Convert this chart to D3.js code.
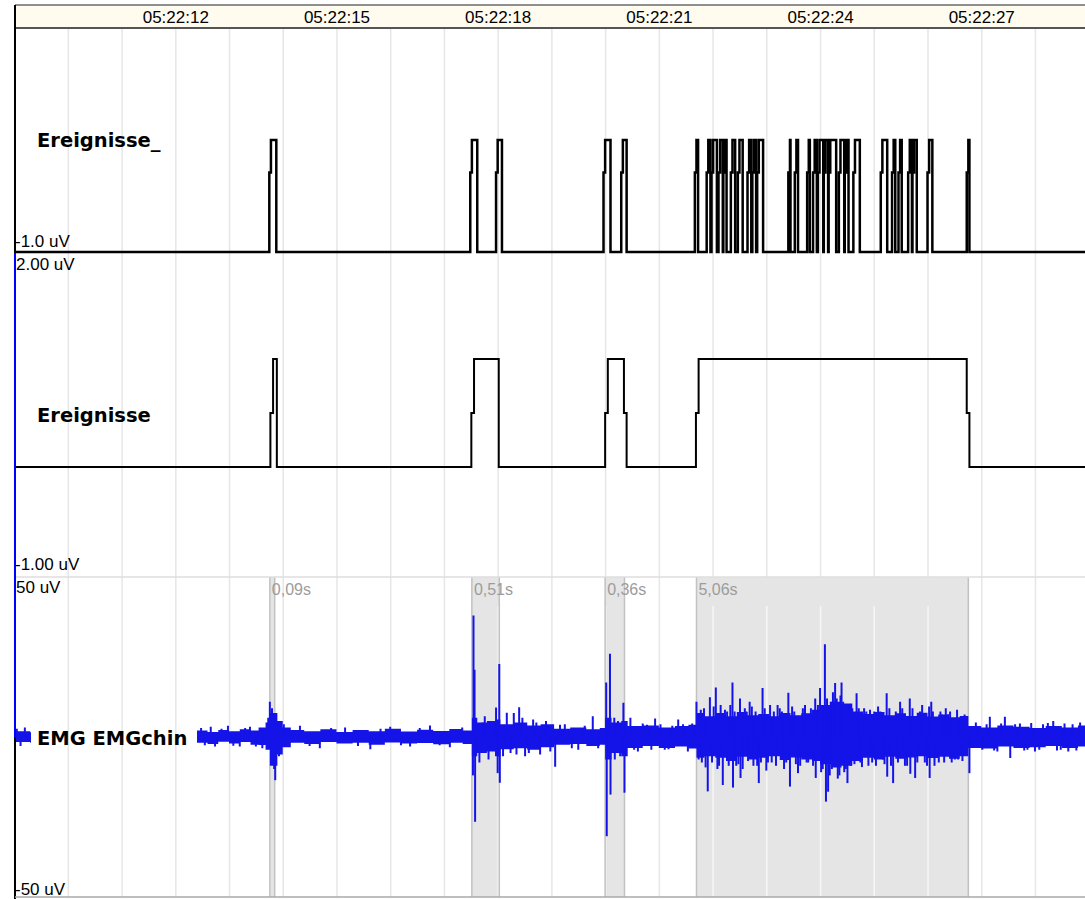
<!DOCTYPE html>
<html>
<head>
<meta charset="utf-8">
<script src="https://cdnjs.cloudflare.com/ajax/libs/d3/7.8.5/d3.min.js"></script>
<style>
    body { margin: 0; background: #fff; }
    svg { display: block; }
    .small { font-family: "Liberation Sans", Arial, sans-serif; font-size: 17px; }
    .name { font-family: "DejaVu Sans", sans-serif; font-weight: bold; font-size: 19.5px; }
</style>
</head>
<body>
<svg id="chart" width="1085" height="899"></svg>
<script>
// Time is in seconds after 05:22:00
const timeTicks = [12, 15, 18, 21, 24, 27];
const timeLabels = ["05:22:12", "05:22:15", "05:22:18", "05:22:21", "05:22:24", "05:22:27"];

const channelNames = ["Ereignisse_", "Ereignisse", "EMG EMGchin"];
const scaleTopLabels = ["", "2.00 uV", "50 uV"];
const scaleBottomLabels = ["-1.0 uV", "-1.00 uV", "-50 uV"];

// Ereignisse_ : [start, end]
const markerPulses = [
    [13.75, 13.88], [17.49, 17.62], [17.97, 18.08], [19.97, 20.10], [20.30, 20.40],
    [21.67, 21.73], [21.89, 21.96], [21.98, 22.08], [22.11, 22.19], [22.20, 22.26],
    [22.34, 22.42], [22.47, 22.56], [22.65, 22.72], [22.74, 22.81], [22.83, 22.94],
    [23.41, 23.45], [23.53, 23.59], [23.76, 23.81], [23.87, 23.94], [23.96, 24.06],
    [24.07, 24.15], [24.16, 24.30], [24.35, 24.45], [24.46, 24.53], [24.62, 24.74],
    [25.13, 25.25], [25.34, 25.40], [25.46, 25.52], [25.64, 25.71], [25.72, 25.80],
    [26.00, 26.09], [26.73, 26.78]
];

// Ereignisse : [start, end, hold on the falling edge]
const eventPulses = [
    [13.77, 13.89, 0], [17.51, 18.02, 0], [20.00, 20.35, 0.05], [21.69, 26.73, 0.05]
];

// marked EMG sections: [start, end, label]
const eventMarks = [
    [13.76, 13.85, "0,09s"], [17.52, 18.03, "0,51s"], [20.00, 20.36, "0,36s"], [21.70, 26.76, "5,06s"]
];

// EMG core band: [time, upper uV, lower uV]
const emgBand = [
    [9.0, 1.8, -1.6], [9.3, 1.5, -1.8], [12.4, 2.0, -1.8], [12.6, 1.6, -2.2], [12.8, 2.2, -1.5],
    [13.0, 1.8, -2.0], [13.2, 2.4, -1.6], [13.4, 2.0, -2.4], [13.55, 3.0, -2.5], [13.68, 4.5, -4.0],
    [13.76, 7.5, -9.0], [13.9, 5.0, -5.5], [14.0, 3.0, -3.2], [14.15, 2.2, -1.8], [14.4, 1.8, -2.2],
    [14.7, 2.4, -1.6], [15.0, 1.6, -2.0], [15.3, 2.2, -1.8], [15.6, 1.8, -2.4], [15.9, 2.6, -1.7],
    [16.2, 1.7, -2.0], [16.5, 2.3, -1.9], [16.8, 1.9, -2.3], [17.1, 2.5, -1.8], [17.35, 2.0, -2.2],
    [17.52, 6.0, -6.0], [17.62, 4.5, -5.0], [17.8, 5.0, -4.5], [17.95, 5.5, -6.0], [18.05, 4.0, -3.8],
    [18.3, 4.5, -3.5], [18.55, 3.6, -4.0], [18.8, 4.0, -3.2], [19.05, 2.6, -2.4], [19.35, 3.0, -2.2],
    [19.65, 2.4, -2.8], [19.9, 2.8, -2.4], [20.0, 6.0, -7.0], [20.12, 4.5, -5.0], [20.3, 5.0, -6.0],
    [20.42, 3.4, -3.4], [20.7, 3.6, -2.8], [21.0, 3.0, -3.4], [21.3, 3.4, -3.0], [21.55, 3.8, -3.6],
    [21.7, 7.5, -6.5], [21.85, 6.5, -6.0], [22.05, 7.5, -6.5], [22.25, 6.5, -7.5], [22.45, 7.8, -6.2],
    [22.65, 6.8, -7.0], [22.85, 7.2, -6.5], [23.05, 6.5, -6.0], [23.25, 7.5, -7.2], [23.45, 6.8, -6.4],
    [23.65, 7.4, -7.0], [23.85, 8.5, -7.5], [24.0, 10.0, -8.5], [24.2, 11.0, -9.5], [24.4, 10.5, -9.0],
    [24.6, 8.0, -7.5], [24.8, 7.2, -6.5], [25.0, 7.8, -7.0], [25.2, 6.8, -6.2], [25.4, 7.4, -6.8],
    [25.6, 6.6, -6.4], [25.8, 7.6, -6.0], [26.0, 6.4, -6.6], [26.2, 7.0, -6.2], [26.4, 6.2, -6.8],
    [26.6, 6.6, -6.0], [26.76, 3.4, -3.4], [27.0, 3.0, -3.6], [27.3, 3.6, -3.0], [27.6, 3.2, -3.4],
    [27.9, 2.8, -3.2], [28.2, 3.4, -2.8], [28.5, 3.0, -3.4], [28.8, 3.6, -3.0], [29.0, 3.2, -3.2]
];

// EMG spikes: [time, uV]
const emgSpikes = [
    [9.05, 2.6], [9.12, -2.8], [9.2, 3.0],
    [12.48, 2.8], [12.55, -2.6], [12.66, 3.2], [12.74, -3.0], [12.86, 2.6], [12.98, 3.5], [13.08, -2.7],
    [13.2, -3.0], [13.3, 2.8], [13.39, 3.2], [13.5, -3.0], [13.62, -3.5],
    [13.73, 6], [13.76, 11], [13.8, 9], [13.84, -10], [13.86, -13.5], [13.89, 5], [13.93, -6], [14.02, 4],
    [14.32, 3.5], [14.5, -2.8], [14.69, -3.5], [14.9, 2.8], [15.16, 3.0], [15.4, -2.8], [15.63, -3.8],
    [15.82, 2.6], [16.0, 3.2], [16.2, -2.6], [16.37, -3.0], [16.55, 2.8], [16.74, 3.6], [16.92, -2.6],
    [17.11, -3.2], [17.34, 3.0],
    [17.54, -12], [17.55, 38], [17.57, 21], [17.58, -26.5], [17.66, -8], [17.72, 4.5], [17.76, 6.5],
    [17.83, -7], [17.9, 5], [17.97, 9.2], [18.0, -11.3], [18.03, 22.8], [18.04, -14.3],
    [18.1, -6], [18.17, 7.6], [18.24, -5], [18.3, 7.5], [18.35, -5.5], [18.4, 9.3], [18.46, 6], [18.51, -6],
    [18.58, -5], [18.66, 5.5], [18.72, 4.5], [18.79, -5.5], [18.9, 5], [18.98, -4.5], [19.07, -9.3],
    [19.16, 3.8], [19.25, 4], [19.38, -3.5], [19.5, -4], [19.62, 3.5], [19.77, 6.5], [19.87, -3.5],
    [20.02, 17], [20.03, -31], [20.09, 26], [20.1, -18], [20.17, 6], [20.18, -7], [20.24, 5],
    [20.28, -6], [20.34, 10.7], [20.36, -17.4],
    [20.47, 6], [20.54, -4], [20.61, -4.5], [20.7, 4.2], [20.78, 3.8], [20.86, -4], [20.93, 5.8],
    [21.03, 4], [21.11, -4], [21.18, -3.8], [21.25, 3.5], [21.36, 5.5], [21.45, 4], [21.54, -4.5], [21.62, 4.2],
    [21.7, 11], [21.74, -7], [21.78, 8.5], [21.8, -8], [21.84, 9], [21.87, -9.5], [21.91, -17], [21.95, 12.4],
    [21.99, -8], [22.02, 9.5], [22.06, 15.5], [22.09, -10], [22.12, -9], [22.15, 10], [22.19, -15],
    [22.23, 8.5], [22.27, 8], [22.3, -9], [22.33, 10], [22.37, 17], [22.38, -15.8], [22.41, 8], [22.44, -9],
    [22.48, -8.5], [22.51, 12], [22.52, -12.8], [22.56, -10], [22.6, 9], [22.63, 8], [22.66, -7.5],
    [22.69, 11], [22.73, 9.5], [22.76, -9], [22.8, 8], [22.83, -9], [22.86, -14.4], [22.9, -8],
    [22.93, 15.3], [22.97, 9], [23.0, -10.5], [23.03, -8], [23.07, 10], [23.1, -8], [23.14, 8],
    [23.18, -9], [23.21, 10], [23.25, 9], [23.29, 8], [23.33, -10], [23.37, -8], [23.41, 13.8],
    [23.44, -15.5], [23.48, 9.5], [23.52, 8], [23.55, -8.5], [23.59, -11.3], [23.63, -9], [23.68, 9],
    [23.72, 10], [23.75, -8], [23.78, -8], [23.83, 9], [23.87, -9], [23.91, 12], [23.92, -12.8],
    [23.96, 10], [24.0, 15.3], [24.02, -11], [24.05, -10], [24.09, 29], [24.11, -20.2], [24.13, 12],
    [24.15, -17.1], [24.18, -12], [24.2, 11], [24.22, -10], [24.24, 14], [24.28, 16.9], [24.31, 12],
    [24.33, -13], [24.36, -12], [24.38, 13], [24.4, 17], [24.43, 11], [24.45, -11], [24.48, -10],
    [24.51, -14.4], [24.55, 10], [24.57, -9], [24.6, 9], [24.64, -8.5], [24.68, 13.7], [24.72, 9],
    [24.75, -8], [24.78, -9.4], [24.82, 9], [24.86, 8], [24.9, -9], [24.93, 8.5], [24.97, -8],
    [25.01, 8], [25.04, -9], [25.08, 9.5], [25.12, 8], [25.17, -7], [25.2, -8.5], [25.24, 13.7],
    [25.25, -12.4], [25.29, 9], [25.32, -9], [25.36, -14.4], [25.41, 8], [25.45, -8], [25.49, 11],
    [25.53, 9], [25.58, -9], [25.62, -9], [25.67, 12], [25.68, -11.5], [25.72, 9], [25.77, -12.8],
    [25.81, -8], [25.86, 8], [25.9, 10], [25.95, -8], [25.99, -9], [26.03, 9.5], [26.04, -12.8],
    [26.07, 11], [26.1, 8], [26.13, -9], [26.17, -6], [26.21, -8], [26.24, 8], [26.27, 7], [26.31, -8],
    [26.34, 9], [26.38, 7], [26.42, 8], [26.45, -8], [26.51, -7], [26.55, 8.5], [26.57, -7], [26.6, 6],
    [26.65, -7.5], [26.69, 7], [26.73, 6], [26.78, -11.3],
    [26.9, 4.5], [27.02, -4], [27.1, 4], [27.16, 6.3], [27.24, -4.2], [27.3, -4.5], [27.37, 4.2],
    [27.44, 6.3], [27.54, -6.6], [27.63, 4], [27.72, 4.2], [27.8, -4.2], [27.86, -4], [27.93, 4.4],
    [28.0, -4.5], [28.08, -4], [28.15, 4], [28.24, 4.4], [28.34, 5], [28.41, -4.2], [28.48, -4],
    [28.55, 4.2], [28.62, -4.5], [28.7, 4], [28.77, -4.2], [28.84, 4.5]
];

// Layout
const width = 1085, left = 15;
const header = { top: 5, bottom: 28 };
const panels = [
    { top: 29, bottom: 252 },
    { top: 253, bottom: 577 },
    { top: 577, bottom: 897 }
];
const blue = "#1414e8";

const svg = d3.select("#chart");

// Scales
const x = d3.scaleLinear().domain([9, 29]).range([14.1, 1088.7]);
const markerY = d3.scaleLinear().domain([0, 1]).range([252, 140]);
const eventY = d3.scaleLinear().domain([-1, 2]).range([575, 251]);
const emgY = d3.scaleLinear().domain([-50, 50]).range([897, 577]);

// Vertical grid, one line per second
const gridAxis = d3.axisBottom(x).ticks(20).tickSize(panels[2].bottom - panels[0].top).tickFormat("");

svg.append("g")
    .attr("class", "grid")
    .attr("transform", `translate(0, ${panels[0].top})`)
    .call(gridAxis)
    .call(g => g.select(".domain").remove())
    .call(g => g.selectAll("line").attr("stroke", "#e6e6e6").attr("stroke-width", 1.5));

// Marked EMG sections
const defs = svg.append("defs");
const markClip = defs.append("clipPath").attr("id", "markClip");
markClip.selectAll("rect")
    .data(eventMarks)
    .join("rect")
    .attr("x", d => x(d[0]))
    .attr("y", panels[2].top)
    .attr("width", d => x(d[1]) - x(d[0]))
    .attr("height", panels[2].bottom - panels[2].top);

svg.append("g")
    .selectAll("rect")
    .data(eventMarks)
    .join("rect")
    .attr("x", d => x(d[0]))
    .attr("y", panels[2].top)
    .attr("width", d => x(d[1]) - x(d[0]))
    .attr("height", panels[2].bottom - panels[2].top)
    .attr("fill", "#e5e5e5");

// lighter grid lines inside the marked sections
svg.append("g")
    .attr("clip-path", "url(#markClip)")
    .attr("transform", `translate(0, ${panels[0].top})`)
    .call(gridAxis)
    .call(g => g.select(".domain").remove())
    .call(g => g.selectAll("line").attr("stroke", "#f6f6f6").attr("stroke-width", 1.5));

const markEdges = svg.append("g").attr("stroke", "#c2c2c2").attr("stroke-width", 1.5);
eventMarks.forEach(d => {
    [d[0], d[1]].forEach(t => {
        markEdges.append("line")
            .attr("x1", x(t)).attr("x2", x(t))
            .attr("y1", panels[2].top).attr("y2", panels[2].bottom);
    });
});

svg.append("g")
    .selectAll("text")
    .data(eventMarks)
    .join("text")
    .attr("class", "small")
    .style("font-size", "16px")
    .attr("x", d => x(d[0]) + 2)
    .attr("y", 595)
    .attr("fill", "#9c9c9c")
    .text(d => d[2]);

// Separator between Ereignisse and EMG
svg.append("line")
    .attr("x1", left).attr("x2", width)
    .attr("y1", panels[2].top).attr("y2", panels[2].top)
    .attr("stroke", "#dedede").attr("stroke-width", 1.5);

// Pulse traces
function pulsePoints(pulses, mid, rise) {
    const pts = [[9, 0]];
    pulses.forEach(p => {
        const s = p[0], e = p[1], fall = p[2] || 0;
        pts.push([s, 0], [s, mid], [s + rise, mid], [s + rise, 1], [e, 1]);
        if (fall > 0) pts.push([e, mid], [e + fall, mid], [e + fall, 0]);
        else pts.push([e, 0]);
    });
    pts.push([29, 0]);
    return pts;
}

svg.append("path")
    .datum(pulsePoints(markerPulses, 0.71, 0.03))
    .attr("d", d3.line().x(d => x(d[0])).y(d => markerY(d[1])))
    .attr("fill", "none")
    .attr("stroke", "#000")
    .attr("stroke-width", 2.5);

svg.append("path")
    .datum(pulsePoints(eventPulses, 0.5, 0.05))
    .attr("d", d3.line().x(d => x(d[0])).y(d => eventY(d[1])))
    .attr("fill", "none")
    .attr("stroke", "#000")
    .attr("stroke-width", 2);

// EMG trace, left out behind the channel name
const emgClip = defs.append("clipPath").attr("id", "emgClip");
emgClip.append("rect").attr("x", left).attr("y", panels[2].top).attr("width", 16).attr("height", panels[2].bottom - panels[2].top);
emgClip.append("rect").attr("x", 197).attr("y", panels[2].top).attr("width", width - 197).attr("height", panels[2].bottom - panels[2].top);

const emg = svg.append("g").attr("clip-path", "url(#emgClip)");

emg.append("path")
    .datum(emgBand)
    .attr("d", d3.area()
        .x(d => x(d[0]))
        .y0(d => emgY(d[2]))
        .y1(d => emgY(d[1]))
        .curve(d3.curveStepAfter))
    .attr("fill", blue);

emg.selectAll("line")
    .data(emgSpikes)
    .join("line")
    .attr("x1", d => x(d[0])).attr("x2", d => x(d[0]))
    .attr("y1", emgY(0)).attr("y2", d => emgY(d[1]))
    .attr("stroke", blue)
    .attr("stroke-width", 2);

// Channel names and scale labels
const nameY = [147, 422, 745];
svg.append("g")
    .selectAll("text")
    .data(channelNames)
    .join("text")
    .attr("class", "name")
    .attr("x", 37)
    .attr("y", (d, i) => nameY[i])
    .attr("fill", "#000")
    .text(d => d);

const topLabelY = [0, 270, 593];
const bottomLabelY = [247, 570, 895];
svg.append("g")
    .selectAll("text")
    .data(scaleTopLabels)
    .join("text")
    .attr("class", "small")
    .attr("x", left + 1)
    .attr("y", (d, i) => topLabelY[i])
    .text(d => d);

svg.append("g")
    .selectAll("text")
    .data(scaleBottomLabels)
    .join("text")
    .attr("class", "small")
    .attr("x", left)
    .attr("y", (d, i) => bottomLabelY[i])
    .text(d => d);

// Time header
svg.append("rect")
    .attr("x", left).attr("y", header.top)
    .attr("width", width - left).attr("height", header.bottom - header.top)
    .attr("fill", "#fffbef");

svg.append("line")
    .attr("x1", left).attr("x2", width)
    .attr("y1", header.top).attr("y2", header.top)
    .attr("stroke", "#222").attr("stroke-width", 1.2);

svg.append("line")
    .attr("x1", left).attr("x2", width)
    .attr("y1", header.bottom).attr("y2", header.bottom)
    .attr("stroke", "#555").attr("stroke-width", 2);

svg.append("g")
    .attr("transform", `translate(0, 23)`)
    .call(d3.axisBottom(x).tickValues(timeTicks).tickFormat((d, i) => timeLabels[i]).tickSize(0))
    .call(g => g.select(".domain").remove())
    .call(g => g.selectAll("text")
        .attr("class", "small")
        .attr("y", 0).attr("dy", null)
        .attr("fill", "#000")
        .style("font-size", "17px")
        .attr("font-family", null));

// Frame
svg.append("line")
    .attr("x1", left).attr("x2", left)
    .attr("y1", header.top).attr("y2", 899)
    .attr("stroke", "#000").attr("stroke-width", 2);

svg.append("line")
    .attr("x1", left).attr("x2", left)
    .attr("y1", panels[1].top).attr("y2", emgY(0))
    .attr("stroke", "#0000ff").attr("stroke-width", 2);

svg.append("line")
    .attr("x1", left).attr("x2", width)
    .attr("y1", panels[2].bottom).attr("y2", panels[2].bottom)
    .attr("stroke", "#a8a8a8").attr("stroke-width", 1.5);
</script>
</body>
</html>
